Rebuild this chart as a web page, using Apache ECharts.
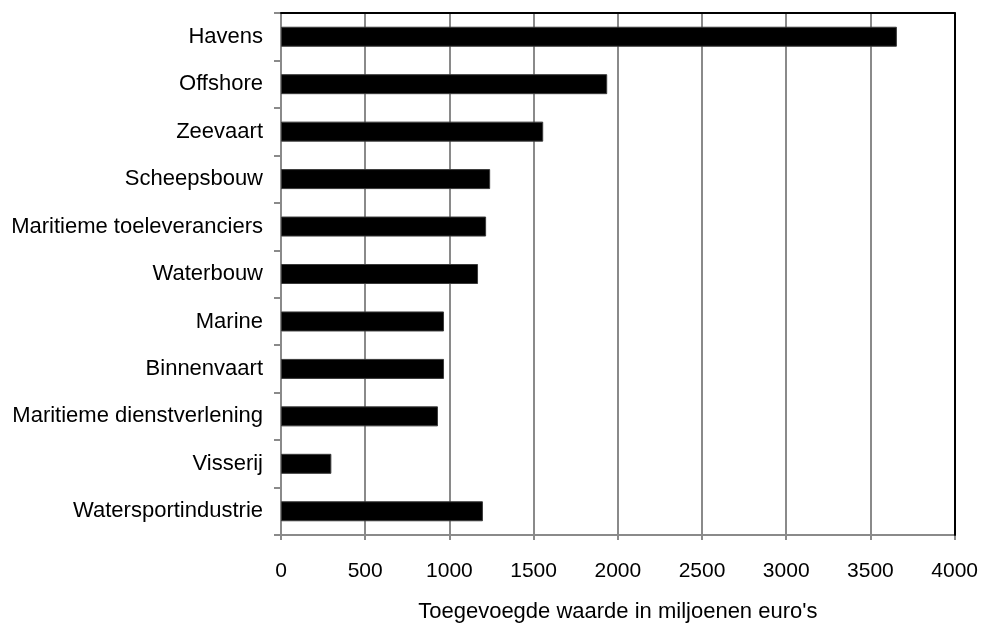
<!DOCTYPE html>
<html>
<head>
<meta charset="utf-8">
<script src="https://cdn.jsdelivr.net/npm/echarts@6/dist/echarts.min.js"></script>
<style>
  html, body { margin: 0; padding: 0; background: #fff; }
  #chart { width: 981px; height: 628px; }
</style>
</head>
<body>
<div id="chart"></div>
<script>
// Maritime sectors, top to bottom
var sectors = [
  'Havens',
  'Offshore',
  'Zeevaart',
  'Scheepsbouw',
  'Maritieme toeleveranciers',
  'Waterbouw',
  'Marine',
  'Binnenvaart',
  'Maritieme dienstverlening',
  'Visserij',
  'Watersportindustrie'
];

// Added value per sector (million euro)
var addedValue = [3657, 1937, 1557, 1242, 1218, 1170, 968, 968, 932, 299, 1199];

// Value axis range
var axisMin = 0;
var axisMax = 4000;
var axisStep = 500;

var axisTitle = "Toegevoegde waarde in miljoenen euro's";

var FONT = '"Liberation Sans", Arial, sans-serif';
var GRAY = '#8a8a8a';

var chart = echarts.init(document.getElementById('chart'), null, { renderer: 'canvas' });

chart.setOption({
  animation: false,
  backgroundColor: '#ffffff',
  grid: {
    left: 281,
    right: 26,
    top: 13,
    bottom: 92,
    show: false
  },
  xAxis: [{
    type: 'value',
    min: axisMin,
    max: axisMax,
    interval: axisStep,
    name: axisTitle,
    nameLocation: 'middle',
    nameGap: 66,
    nameTextStyle: { fontFamily: FONT, fontSize: 22, color: '#000' },
    axisLine: { show: true, lineStyle: { color: GRAY, width: 2 } },
    axisTick: { show: true, length: 5, lineStyle: { color: GRAY, width: 2 } },
    axisLabel: {
      margin: 26,
      fontFamily: FONT,
      fontSize: 21,
      color: '#000',
      formatter: function (v) { return String(v); }
    },
    splitLine: { show: true, lineStyle: { color: GRAY, width: 2 } }
  }, {
    // plain black frame line along the top of the plot
    type: 'value',
    position: 'top',
    z: 5,
    min: axisMin,
    max: axisMax,
    interval: axisStep,
    axisLine: { show: true, onZero: false, lineStyle: { color: '#000', width: 2 } },
    axisTick: { show: false },
    axisLabel: { show: false },
    splitLine: { show: false }
  }],
  yAxis: [{
    type: 'category',
    inverse: true,
    data: sectors,
    axisLine: { show: true, lineStyle: { color: GRAY, width: 2 } },
    axisTick: { show: true, length: 7, alignWithLabel: false, lineStyle: { color: GRAY, width: 2 } },
    axisLabel: { margin: 18, fontFamily: FONT, fontSize: 22, color: '#000' },
    splitLine: { show: false }
  }, {
    // plain black frame line along the right of the plot
    type: 'category',
    position: 'right',
    z: 5,
    inverse: true,
    data: sectors,
    axisLine: { show: true, onZero: false, lineStyle: { color: '#000', width: 2 } },
    axisTick: { show: false },
    axisLabel: { show: false },
    splitLine: { show: false }
  }],
  series: [{
    type: 'bar',
    xAxisIndex: 0,
    yAxisIndex: 0,
    data: addedValue,
    barWidth: 20,
    itemStyle: { color: '#000000', borderColor: '#3a3a3a', borderWidth: 1 }
  }]
});
</script>
</body>
</html>
